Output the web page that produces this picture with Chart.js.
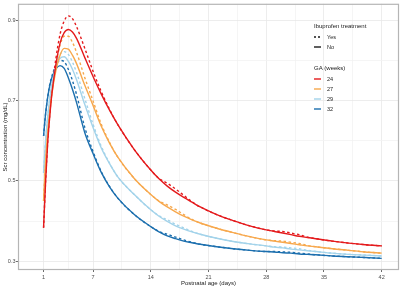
<!DOCTYPE html>
<html>
<head>
<meta charset="utf-8">
<script src="https://cdn.jsdelivr.net/npm/chart.js@4"></script>
<style>
  html, body { margin: 0; padding: 0; background: #fff; }
  canvas { display: block; }
</style>
</head>
<body>
<canvas id="scrChart" width="400" height="287"></canvas>
<script>
// Postnatal age grid (days) shared by every curve
const days = [1, 1.25, 1.5, 1.75, 2, 2.5, 3, 3.5, 4, 4.5, 5, 6, 7, 8, 9, 10, 12, 14, 15, 16, 17, 18, 19, 20, 22, 24, 26, 28, 29, 30, 31, 32, 33, 34, 36, 38, 40, 42];

// GA 24 weeks
const ga24No  = [0.383, 0.500, 0.595, 0.660, 0.715, 0.790, 0.843, 0.869, 0.877, 0.871, 0.855, 0.807, 0.760, 0.716, 0.676, 0.640, 0.578, 0.527, 0.505, 0.487, 0.472, 0.459, 0.447, 0.435, 0.416, 0.401, 0.388, 0.378, 0.374, 0.370, 0.366, 0.362, 0.359, 0.356, 0.350, 0.345, 0.341, 0.338];
const ga24Yes = [0.383, 0.500, 0.597, 0.665, 0.722, 0.805, 0.865, 0.898, 0.911, 0.904, 0.884, 0.830, 0.773, 0.722, 0.678, 0.640, 0.578, 0.527, 0.506, 0.494, 0.480, 0.464, 0.448, 0.435, 0.416, 0.401, 0.388, 0.378, 0.375, 0.374, 0.370, 0.366, 0.360, 0.356, 0.350, 0.345, 0.341, 0.338];
// GA 27 weeks
const ga27No  = [0.450, 0.550, 0.620, 0.672, 0.715, 0.775, 0.813, 0.830, 0.828, 0.813, 0.792, 0.738, 0.688, 0.636, 0.594, 0.559, 0.506, 0.466, 0.449, 0.435, 0.423, 0.412, 0.403, 0.395, 0.382, 0.371, 0.361, 0.353, 0.350, 0.347, 0.344, 0.341, 0.338, 0.336, 0.331, 0.327, 0.323, 0.320];
const ga27Yes = [0.450, 0.550, 0.620, 0.674, 0.720, 0.790, 0.838, 0.860, 0.860, 0.845, 0.820, 0.757, 0.699, 0.641, 0.596, 0.559, 0.506, 0.466, 0.450, 0.440, 0.429, 0.416, 0.404, 0.395, 0.382, 0.371, 0.361, 0.353, 0.351, 0.350, 0.347, 0.344, 0.339, 0.336, 0.331, 0.327, 0.323, 0.320];
// GA 29 weeks
const ga29No  = [0.520, 0.600, 0.660, 0.705, 0.740, 0.783, 0.805, 0.809, 0.798, 0.778, 0.752, 0.690, 0.633, 0.582, 0.543, 0.510, 0.466, 0.428, 0.412, 0.399, 0.388, 0.380, 0.373, 0.367, 0.357, 0.349, 0.343, 0.338, 0.335, 0.333, 0.330, 0.328, 0.326, 0.324, 0.320, 0.317, 0.315, 0.313];
const ga29Yes = [0.520, 0.600, 0.660, 0.706, 0.742, 0.790, 0.815, 0.822, 0.815, 0.796, 0.770, 0.705, 0.641, 0.586, 0.544, 0.510, 0.466, 0.428, 0.413, 0.403, 0.392, 0.383, 0.374, 0.367, 0.357, 0.349, 0.343, 0.338, 0.336, 0.335, 0.333, 0.331, 0.327, 0.324, 0.320, 0.317, 0.315, 0.313];
// GA 32 weeks
const ga32No  = [0.612, 0.668, 0.708, 0.737, 0.757, 0.779, 0.787, 0.780, 0.757, 0.728, 0.695, 0.620, 0.568, 0.521, 0.485, 0.457, 0.416, 0.386, 0.373, 0.363, 0.356, 0.350, 0.346, 0.342, 0.336, 0.331, 0.327, 0.324, 0.323, 0.321, 0.320, 0.318, 0.317, 0.316, 0.313, 0.311, 0.309, 0.307];
const ga32Yes = [0.612, 0.668, 0.709, 0.740, 0.760, 0.788, 0.800, 0.797, 0.778, 0.750, 0.715, 0.633, 0.573, 0.523, 0.486, 0.457, 0.416, 0.386, 0.374, 0.367, 0.360, 0.353, 0.347, 0.342, 0.336, 0.331, 0.327, 0.324, 0.324, 0.323, 0.322, 0.320, 0.318, 0.316, 0.313, 0.311, 0.309, 0.307];

const gaLabels = ['24', '27', '29', '32'];
const gaColors = ['#e41a1c', '#f7a84d', '#a3d3ea', '#1c6fae'];
const treatLabels = ['Yes', 'No'];

// tick labels and grid positions
const xTickLabels = [1, 7, 14, 21, 28, 35, 42];
const xGrid = [1, 4, 7, 10.5, 14, 17.5, 21, 24.5, 28, 31.5, 35, 38.5, 42];
const yTickLabels = [0.3, 0.5, 0.7, 0.9];
const yGrid = [0.3, 0.4, 0.5, 0.6, 0.7, 0.8, 0.9];

const seriesNo = [ga24No, ga27No, ga29No, ga32No];
const seriesYes = [ga24Yes, ga27Yes, ga29Yes, ga32Yes];

function toPoints(values) {
    return values.map((v, i) => ({ x: days[i], y: v }));
}

const datasets = [];
seriesNo.forEach((vals, i) => {
    datasets.push({ label: gaLabels[i] + ' No', data: toPoints(vals), borderColor: gaColors[i], borderWidth: 1.4, pointRadius: 0, fill: false, cubicInterpolationMode: 'monotone' });
});
seriesYes.forEach((vals, i) => {
    datasets.push({ label: gaLabels[i] + ' Yes', data: toPoints(vals), borderColor: gaColors[i], borderWidth: 1.4, borderDash: [2.5, 2.5], pointRadius: 0, fill: false, cubicInterpolationMode: 'monotone' });
});

const FONT = '"Liberation Sans", Arial, sans-serif';
const isMajor = (labels, v) => labels.some(t => Math.abs(t - v) < 1e-9);

// panel border + ggplot style legend inside the panel
const panelDecor = {
    id: 'panelDecor',
    afterDatasetsDraw(chart) {
        const { ctx, chartArea: a } = chart;
        ctx.save();
        ctx.strokeStyle = '#b5b5b5';
        ctx.lineWidth = 1.2;
        ctx.strokeRect(a.left + 0.5, a.top + 0.5, a.right - a.left - 1, a.bottom - a.top - 1);
        ctx.restore();
    },
    afterDraw(chart) {
        const ctx = chart.ctx;
        const kx = 314, tx = 327;
        ctx.save();
        ctx.fillStyle = '#1a1a1a';
        ctx.textBaseline = 'middle';
        ctx.font = '6px ' + FONT;
        ctx.fillText('Ibuprofen treatment', kx, 26);
        ctx.fillText('GA (weeks)', kx, 68);
        ctx.font = '5.5px ' + FONT;
        ctx.lineWidth = 1.4;
        treatLabels.forEach((lab, i) => {
            const y = 37 + i * 10;
            ctx.strokeStyle = '#1a1a1a';
            ctx.setLineDash(lab === 'Yes' ? [2, 2] : []);
            ctx.beginPath();
            ctx.moveTo(kx, y);
            ctx.lineTo(kx + 7, y);
            ctx.stroke();
            ctx.fillText(lab, tx, y);
        });
        ctx.setLineDash([]);
        gaLabels.forEach((lab, i) => {
            const y = 79 + i * 10;
            ctx.strokeStyle = gaColors[i];
            ctx.beginPath();
            ctx.moveTo(kx, y);
            ctx.lineTo(kx + 7, y);
            ctx.stroke();
            ctx.fillStyle = '#1a1a1a';
            ctx.fillText(lab, tx, y);
        });
        ctx.restore();
    }
};

new Chart(document.getElementById('scrChart'), {
    type: 'line',
    data: { datasets },
    options: {
        responsive: false,
        animation: false,
        layout: { padding: { top: 1, right: 1, left: 0, bottom: 0 } },
        plugins: { legend: { display: false }, tooltip: { enabled: false } },
        scales: {
            x: {
                type: 'linear',
                min: -2.1,
                max: 44.1,
                afterBuildTicks: s => { s.ticks = xGrid.map(v => ({ value: v })); },
                afterFit: s => { s.height = 17; },
                ticks: {
                    autoSkip: false,
                    maxRotation: 0,
                    padding: 2,
                    color: '#4d4d4d',
                    font: { family: FONT, size: 5.5 },
                    callback: v => isMajor(xTickLabels, v) ? String(v) : ''
                },
                grid: {
                    color: c => isMajor(xTickLabels, c.tick.value) ? '#e8e8e8' : '#f3f3f3',
                    lineWidth: 0.8,
                    tickLength: 2,
                    tickColor: c => isMajor(xTickLabels, c.tick.value) ? '#444' : 'rgba(0,0,0,0)',
                    tickWidth: 0.8
                },
                border: { display: false },
                title: { display: true, text: 'Postnatal age (days)', color: '#1a1a1a', font: { family: FONT, size: 6 }, padding: 0 }
            },
            y: {
                min: 0.278,
                max: 0.941,
                afterBuildTicks: s => { s.ticks = yGrid.map(v => ({ value: v })); },
                afterFit: s => { s.width = 18; },
                ticks: {
                    padding: 0.5,
                    color: '#4d4d4d',
                    font: { family: FONT, size: 5.5 },
                    callback: v => isMajor(yTickLabels, v) ? v.toFixed(1) : ''
                },
                grid: {
                    color: c => isMajor(yTickLabels, c.tick.value) ? '#e8e8e8' : '#f3f3f3',
                    lineWidth: 0.8,
                    tickLength: 2,
                    tickColor: c => isMajor(yTickLabels, c.tick.value) ? '#444' : 'rgba(0,0,0,0)',
                    tickWidth: 0.8
                },
                border: { display: false },
                title: { display: true, text: 'Scr concentration (mg/dL)', color: '#1a1a1a', font: { family: FONT, size: 6 }, padding: { top: 1.5, bottom: 0 } }
            }
        }
    },
    plugins: [panelDecor]
});
</script>
</body>
</html>
